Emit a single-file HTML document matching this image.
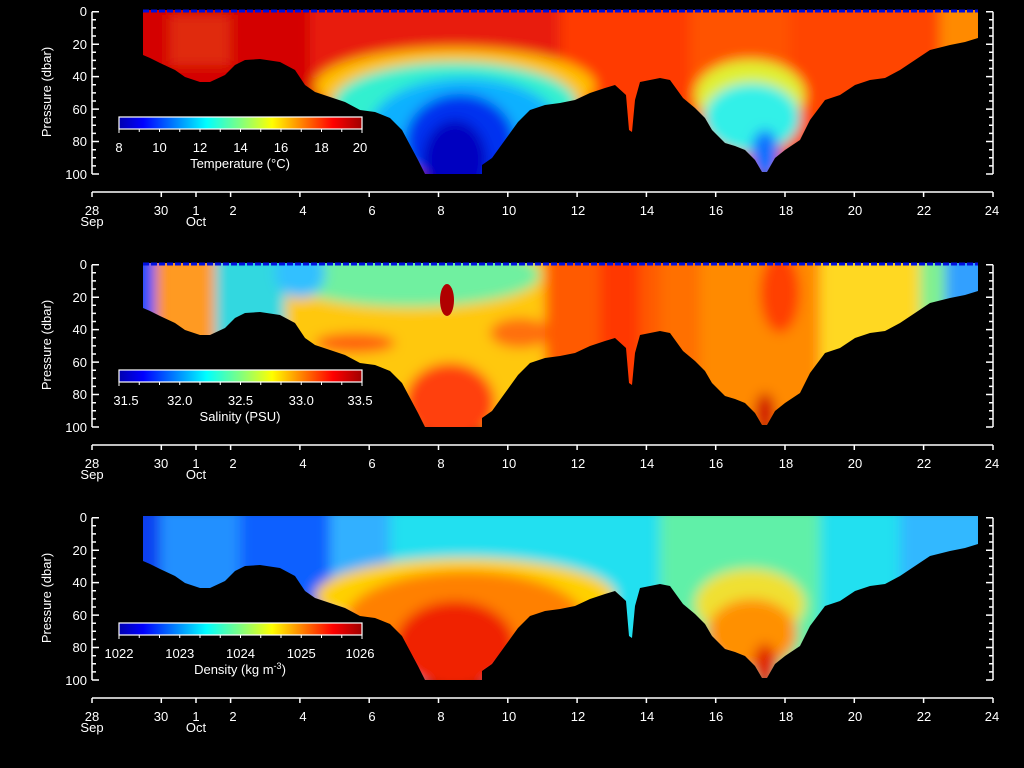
<!DOCTYPE html>
<html><head><meta charset="utf-8"><style>
html,body{margin:0;padding:0;background:#000;}
svg{display:block;font-family:"Liberation Sans",sans-serif;}
text{fill:#fff;font-size:13px;}
</style></head><body>
<svg width="1024" height="768" viewBox="0 0 1024 768" xmlns="http://www.w3.org/2000/svg">
<defs>
<linearGradient id="jet" x1="0" x2="1" y1="0" y2="0">
<stop offset="0" stop-color="#0000b0"/><stop offset="0.1" stop-color="#0000ff"/>
<stop offset="0.36" stop-color="#00ffff"/><stop offset="0.5" stop-color="#80ff80"/>
<stop offset="0.63" stop-color="#ffff00"/><stop offset="0.88" stop-color="#ff0000"/>
<stop offset="1" stop-color="#a00000"/></linearGradient>
<clipPath id="dc"><polygon points="143,10 978,10 978,38 965,42 950,45 930,50 915,60 900,70 885,78 870,80 855,85 840,95 825,100 810,120 800,140 785,150 775,158 767,172 762,172 755,160 745,150 735,146 725,143 712,130 705,118 695,108 683,98 670,80 660,78 640,82 635,100 632,132 629,130 626,95 615,85 605,88 590,93 575,100 560,103 545,105 530,110 518,122 505,140 492,158 482,165 482,174 425,174 418,160 410,145 402,130 390,118 375,112 360,110 345,102 330,97 315,92 305,85 295,70 280,62 260,59 245,60 235,65 225,75 210,82 200,82 185,77 175,70 160,63 150,58 143,55"/></clipPath>
<filter id="bl" x="-10%" y="-10%" width="120%" height="120%"><feGaussianBlur stdDeviation="6"/></filter>
<path id="lt" d="M92 11.7h7M92 19.8h4M92 27.9h4M92 36h4M92 44.2h7M92 52.3h4M92 60.4h4M92 68.5h4M92 76.6h7M92 84.7h4M92 92.9h4M92 101h4M92 109.1h7M92 117.2h4M92 125.3h4M92 133.4h4M92 141.5h7M92 149.7h4M92 157.8h4M92 165.9h4M92 174h7M92 11.7V174" stroke="#fff" stroke-width="1.5" fill="none"/>
<path id="rt" d="M993 11.7h-7M993 19.8h-4M993 27.9h-4M993 36h-4M993 44.2h-7M993 52.3h-4M993 60.4h-4M993 68.5h-4M993 76.6h-7M993 84.7h-4M993 92.9h-4M993 101h-4M993 109.1h-7M993 117.2h-4M993 125.3h-4M993 133.4h-4M993 141.5h-7M993 149.7h-4M993 157.8h-4M993 165.9h-4M993 174h-7M993 11.7V174" stroke="#fff" stroke-width="1.5" fill="none"/>
<path id="tt" d="M92 192H993M92 192v5M161.3 192v5M196 192v5M230.6 192v5M299.9 192v5M369.2 192v5M438.5 192v5M507.8 192v5M577.1 192v5M646.4 192v5M715.7 192v5M785 192v5M854.3 192v5M923.6 192v5M993 192v5" stroke="#fff" stroke-width="1.5" fill="none"/>
<path id="cbt" d="M119 129v4M139.25 129v3M159.5 129v3M179.75 129v3M200 129v3M220.25 129v3M240.5 129v3M260.75 129v3M281 129v3M301.25 129v3M321.5 129v3M341.75 129v3M362 129v4" stroke="#fff" stroke-width="1" fill="none"/>
</defs>

<g id="ax">
<use href="#lt"/><use href="#rt"/><use href="#tt"/>
</g>
<use href="#ax" y="253"/><use href="#ax" y="506"/>

<!-- PANEL 1 Temperature -->
<g clip-path="url(#dc)">
<g filter="url(#bl)">
<rect x="130" y="0" width="860" height="180" fill="#e81a0a"/>
<rect x="130" y="0" width="180" height="180" fill="#d40606"/>
<rect x="170" y="15" width="60" height="50" fill="#e02a10"/>
<rect x="560" y="0" width="140" height="180" fill="#ff3a00"/>
<rect x="690" y="0" width="290" height="180" fill="#ff5200"/>
<rect x="790" y="0" width="150" height="180" fill="#ff4400"/>
<rect x="940" y="0" width="50" height="180" fill="#ff8a00"/>
<ellipse cx="455" cy="86" rx="140" ry="38" fill="#ffc000"/>
<ellipse cx="455" cy="104" rx="122" ry="42" fill="#30f0d0"/>
<ellipse cx="465" cy="128" rx="95" ry="50" fill="#10b0ff"/>
<ellipse cx="460" cy="142" rx="55" ry="48" fill="#0030f0"/>
<ellipse cx="455" cy="160" rx="32" ry="40" fill="#0000c0"/>
<ellipse cx="750" cy="95" rx="55" ry="35" fill="#e0f030"/>
<ellipse cx="752" cy="118" rx="48" ry="35" fill="#30f0e8"/>
<ellipse cx="765" cy="155" rx="14" ry="25" fill="#1070ff"/>
</g></g>
<line x1="143" y1="11" x2="978" y2="11" stroke="#0010e0" stroke-width="3" stroke-dasharray="6,2"/>

<!-- PANEL 2 Salinity -->
<g transform="translate(0,253)">
<g clip-path="url(#dc)">
<g filter="url(#bl)">
<rect x="130" y="0" width="860" height="180" fill="#ff8a00"/>
<rect x="130" y="0" width="25" height="180" fill="#2050ff"/>
<rect x="160" y="0" width="55" height="180" fill="#ff9a20"/>
<rect x="215" y="0" width="80" height="180" fill="#30d8e0"/>
<rect x="285" y="0" width="260" height="180" fill="#ffc810"/>
<ellipse cx="410" cy="22" rx="130" ry="32" fill="#70f0a0"/>
<ellipse cx="300" cy="20" rx="25" ry="25" fill="#30c0ff"/>
<ellipse cx="450" cy="150" rx="45" ry="40" fill="#ff4010"/>
<ellipse cx="355" cy="90" rx="40" ry="10" fill="#ff6010"/>
<ellipse cx="520" cy="80" rx="30" ry="15" fill="#ff7010"/>
<rect x="545" y="0" width="150" height="180" fill="#ff5a00"/>
<rect x="600" y="0" width="40" height="180" fill="#ff3800"/>
<rect x="660" y="0" width="40" height="180" fill="#ff7000"/>
<rect x="700" y="0" width="120" height="180" fill="#ff8a00"/>
<ellipse cx="780" cy="40" rx="20" ry="40" fill="#ff4000"/>
<ellipse cx="765" cy="160" rx="10" ry="20" fill="#d01000"/>
<rect x="820" y="0" width="100" height="180" fill="#ffd820"/>
<rect x="920" y="0" width="30" height="180" fill="#80f090"/>
<rect x="945" y="0" width="45" height="180" fill="#30a0ff"/>
</g>
<ellipse cx="447" cy="47" rx="7" ry="16" fill="#b00000"/>
</g>
<line x1="143" y1="11" x2="978" y2="11" stroke="#0010e0" stroke-width="3" stroke-dasharray="6,2"/>
</g>

<!-- PANEL 3 Density -->
<g transform="translate(0,506)">
<g clip-path="url(#dc)">
<g filter="url(#bl)">
<rect x="130" y="0" width="860" height="180" fill="#20e0f0"/>
<rect x="130" y="0" width="30" height="180" fill="#1040f0"/>
<rect x="160" y="0" width="80" height="180" fill="#2090ff"/>
<rect x="240" y="0" width="90" height="180" fill="#1060ff"/>
<rect x="330" y="0" width="60" height="180" fill="#30b0ff"/>
<rect x="660" y="0" width="160" height="180" fill="#60f0a8"/>
<rect x="900" y="0" width="90" height="180" fill="#30b8ff"/>
<ellipse cx="465" cy="90" rx="150" ry="38" fill="#ffd000"/>
<ellipse cx="465" cy="115" rx="120" ry="50" fill="#ff8000"/>
<ellipse cx="455" cy="140" rx="60" ry="45" fill="#f02000"/>
<ellipse cx="750" cy="98" rx="55" ry="35" fill="#f0e030"/>
<ellipse cx="752" cy="128" rx="45" ry="35" fill="#ff9000"/>
<ellipse cx="765" cy="160" rx="12" ry="22" fill="#e02000"/>
</g></g>
</g>

<g id="lab">
<g text-anchor="end"><text x="87" y="16">0</text><text x="87" y="49">20</text><text x="87" y="81">40</text><text x="87" y="114">60</text><text x="87" y="146">80</text><text x="87" y="179">100</text></g>
<text transform="translate(51,92) rotate(-90)" text-anchor="middle">Pressure (dbar)</text>
<g text-anchor="middle"><text x="92" y="215">28</text><text x="92" y="226">Sep</text><text x="161" y="215">30</text><text x="196" y="215">1</text><text x="196" y="226">Oct</text><text x="233" y="215">2</text><text x="303" y="215">4</text><text x="372" y="215">6</text><text x="441" y="215">8</text><text x="509" y="215">10</text><text x="578" y="215">12</text><text x="647" y="215">14</text><text x="716" y="215">16</text><text x="786" y="215">18</text><text x="855" y="215">20</text><text x="924" y="215">22</text><text x="992" y="215">24</text></g>
<rect x="119" y="117" width="243" height="12" fill="url(#jet)" stroke="#fff" stroke-width="1.2"/>
<use href="#cbt"/>
</g>
<use href="#lab" y="253"/><use href="#lab" y="506"/>

<g text-anchor="middle">
<text x="119" y="152">8</text><text x="159.5" y="152">10</text><text x="200" y="152">12</text><text x="240.5" y="152">14</text><text x="281" y="152">16</text><text x="321.5" y="152">18</text><text x="360" y="152">20</text>
<text x="240" y="168">Temperature (°C)</text>
<text x="126" y="405">31.5</text><text x="179.75" y="405">32.0</text><text x="240.5" y="405">32.5</text><text x="301.25" y="405">33.0</text><text x="360" y="405">33.5</text>
<text x="240" y="421">Salinity (PSU)</text>
<text x="119" y="658">1022</text><text x="179.75" y="658">1023</text><text x="240.5" y="658">1024</text><text x="301.25" y="658">1025</text><text x="360" y="658">1026</text>
<text x="240" y="674">Density (kg m<tspan dy="-5" font-size="9">-3</tspan><tspan dy="5">)</tspan></text>
</g>
</svg>
</body></html>
